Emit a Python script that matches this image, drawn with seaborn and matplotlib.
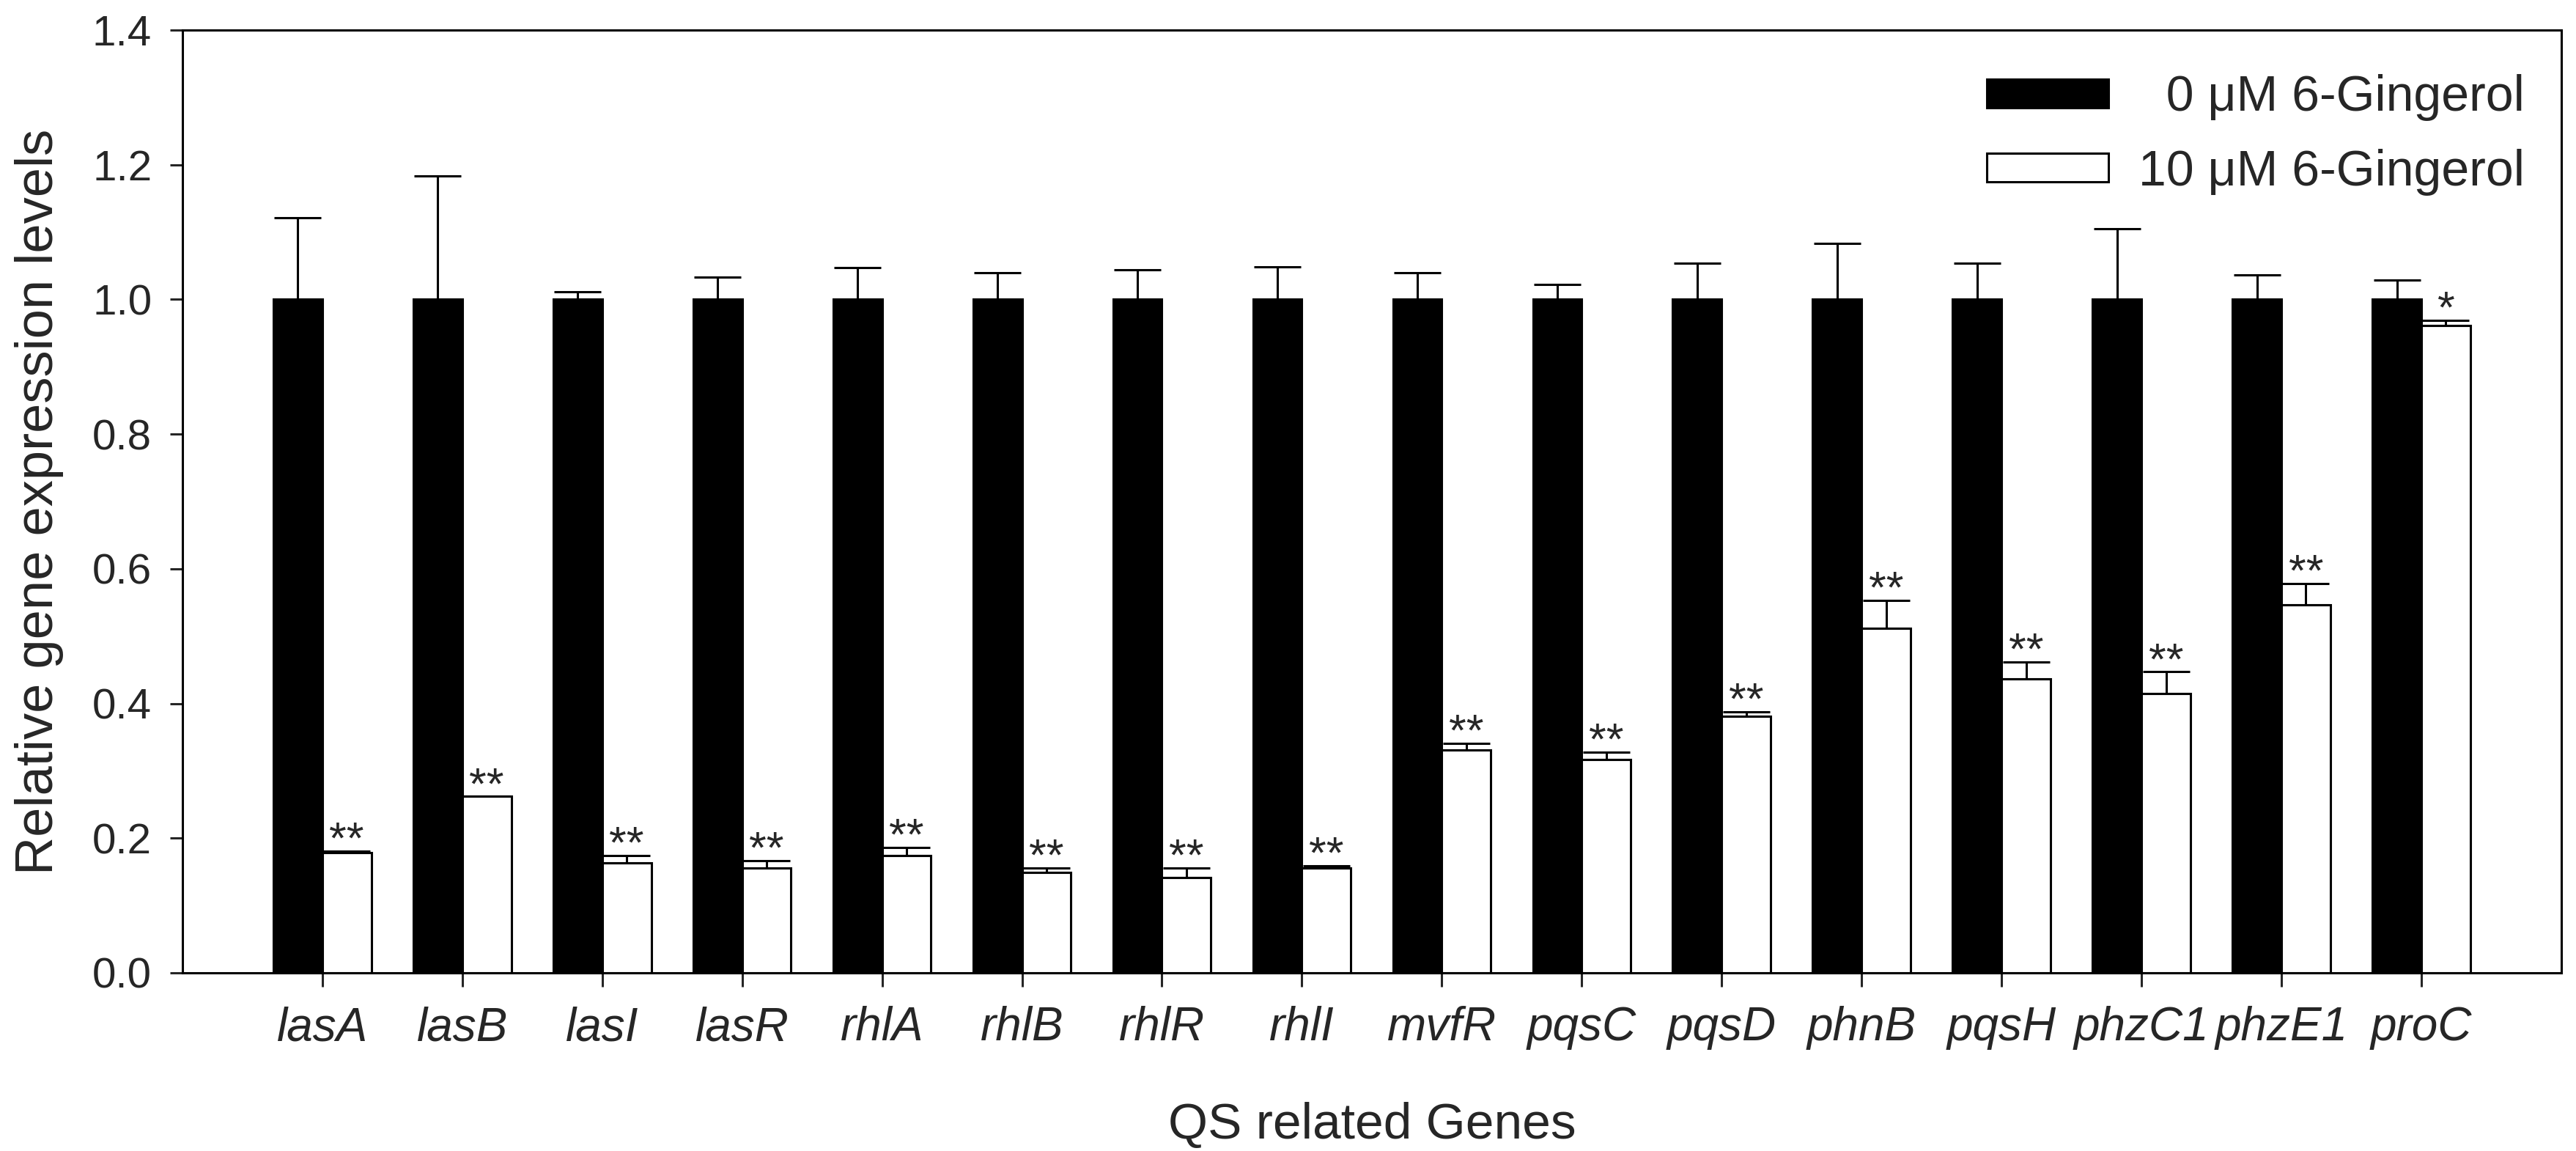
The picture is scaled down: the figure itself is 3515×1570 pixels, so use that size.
import matplotlib
matplotlib.use("Agg")
import matplotlib.pyplot as plt
from matplotlib.patches import Patch
import numpy as np
import pandas as pd
import seaborn as sns

# data
genes = ["lasA", "lasB", "lasI", "lasR", "rhlA", "rhlB", "rhlR", "rhlI",
         "mvfR", "pqsC", "pqsD", "phnB", "pqsH", "phzC1", "phzE1", "proC"]
groups = ["0 \u03bcM 6-Gingerol", "10 \u03bcM 6-Gingerol"]
ctrl = [1.0, 1.0, 1.0, 1.0, 1.0, 1.0, 1.0, 1.0,
        1.0, 1.0, 1.0, 1.0, 1.0, 1.0, 1.0, 1.0]
ctrl_err = [0.121, 0.183, 0.011, 0.033, 0.047, 0.040, 0.044, 0.048,
            0.040, 0.022, 0.054, 0.083, 0.054, 0.105, 0.036, 0.029]
treat = [0.178, 0.262, 0.163, 0.156, 0.174, 0.149, 0.142, 0.156,
         0.331, 0.317, 0.381, 0.512, 0.436, 0.415, 0.546, 0.961]
treat_err = [0.003, 0.0, 0.011, 0.011, 0.012, 0.007, 0.014, 0.003,
             0.010, 0.011, 0.007, 0.041, 0.026, 0.032, 0.032, 0.008]
marks = ["**", "**", "**", "**", "**", "**", "**", "**",
         "**", "**", "**", "**", "**", "**", "**", "*"]

df = pd.DataFrame({
    "gene": genes + genes,
    "group": [groups[0]] * len(genes) + [groups[1]] * len(genes),
    "value": ctrl + treat,
})

sns.set_style("white")
plt.rcParams["font.family"] = ["Liberation Sans", "DejaVu Sans"]

fig, ax = plt.subplots(figsize=(35.15, 15.70), dpi=100)
ax.set_position([0.0708, 0.1548, 0.9235, 0.8191])

sns.barplot(data=df, x="gene", y="value", hue="group", order=genes,
            hue_order=groups, palette={groups[0]: "black", groups[1]: "white"},
            edgecolor="black", linewidth=2.2, width=0.7, errorbar=None,
            legend=False, ax=ax)

# upward-only error bars, then significance marks over the treated bars
errs = [ctrl_err, treat_err]
vals = [ctrl, treat]
bar_sets = list(ax.containers)
for k, cont in enumerate(bar_sets):
    xs = [b.get_x() + b.get_width() / 2 for b in cont]
    ax.errorbar(xs, vals[k], yerr=[np.zeros(len(xs)), errs[k]], fmt="none",
                ecolor="black", elinewidth=2.2, capsize=23, capthick=2.2,
                zorder=3)
    if k == 1:
        for x, v, e, m in zip(xs, treat, treat_err, marks):
            ax.annotate(m, (x, v + e), xytext=(0, -2), textcoords="offset points",
                        ha="center", va="baseline", fontsize=44)

ax.set_xlim(-1, 16)
ax.set_ylim(0, 1.4)
ax.set_yticks(np.arange(0, 1.41, 0.2))
ax.set_yticklabels([f"{t:.1f}" for t in np.arange(0, 1.41, 0.2)])
for lab in ax.get_xticklabels():
    lab.set_fontstyle("italic")

ax.tick_params(axis="x", direction="out", length=13.7, width=2.2, labelsize=46,
               pad=19, bottom=True, top=False)
ax.tick_params(axis="y", direction="out", length=12, width=2.2, labelsize=42,
               pad=18, left=True, right=False)
for sp in ax.spines.values():
    sp.set_visible(True)
    sp.set_linewidth(2.2)
    sp.set_color("black")

ax.set_xlabel("QS related Genes", fontsize=50)
ax.set_ylabel("Relative gene expression levels", fontsize=52)
ax.xaxis.set_label_coords(0.5, -0.137)
ax.yaxis.set_label_coords(-0.050, 0.5)

handles = [Patch(facecolor="black", edgecolor="black", linewidth=2.2),
           Patch(facecolor="white", edgecolor="black", linewidth=2.2)]
ax.legend(handles, ["  " + groups[0], groups[1]], loc="upper right",
          bbox_to_anchor=(0.9846, 0.953), frameon=False, fontsize=49,
          handlelength=2.45, handleheight=0.5, handletextpad=0.6,
          labelspacing=0.55, borderpad=0, borderaxespad=0)

fig.savefig("out.png", dpi=100)
